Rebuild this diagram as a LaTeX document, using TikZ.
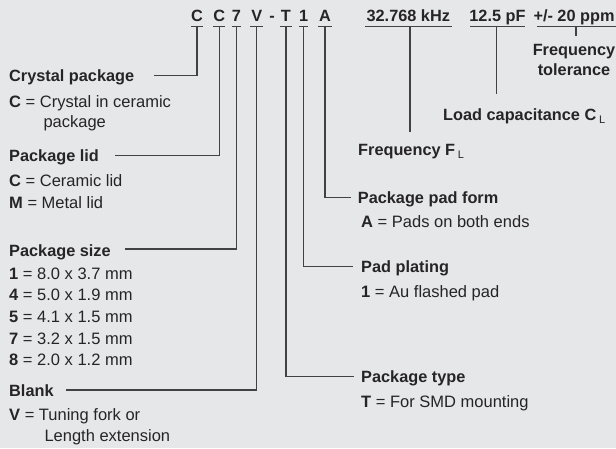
\documentclass[tikz,border=0pt]{standalone}
\usepackage{fontspec}
\setmainfont{Liberation Sans}
\definecolor{bgc}{RGB}{230,231,233}
\definecolor{txtc}{RGB}{38,36,37}
\definecolor{linec}{RGB}{66,66,68}
\newcommand\mysubL{\,{\mdseries\fontsize{11}{11}\selectfont\raisebox{-2.5pt}{L}}}
\begin{document}
\begin{tikzpicture}[x=1pt,y=-1pt,
  txt/.style={inner sep=0pt, anchor=base west, text=txtc, font=\fontsize{16.5}{19}\selectfont},
  bld/.style={txt, font=\fontsize{16.3}{19}\selectfont\bfseries},
  code/.style={inner sep=0pt, anchor=base, text=txtc, font=\fontsize{16.3}{19}\selectfont\bfseries},
  conn/.style={draw=linec, line width=1.3pt}]
\fill[bgc] (0,0) rectangle (616,448);
\useasboundingbox (0,0) rectangle (616,448);

% code letters
\node[code] (kC1) at (196.9,21.7) {C};
\node[code] (kC2) at (219.2,21.7) {C};
\node[code] (k7)  at (236.4,21.7) {7};
\node[code] (kV)  at (256.7,21.7) {V};
\node[code] (kD)  at (272.0,21.7) {-};
\node[code] (kT)  at (285.9,21.7) {T};
\node[code] (k1)  at (303.7,21.7) {1};
\node[code] (kA)  at (325.0,21.7) {A};
\node[code] (kF)  at (408.3,21.7) {32.768 kHz};
\node[code] (kL)  at (497.5,21.7) {12.5 pF};
\node[code, anchor=base west] (kP) at (533.3,21.7) {+/- 20 ppm};

% stem tops
\coordinate (uC1) at (196.9,26.7);
\coordinate (uC2) at (219.2,26.7);
\coordinate (u7)  at (236.4,26.7);
\coordinate (uV)  at (256.7,26.7);
\coordinate (uT)  at (285.9,26.7);
\coordinate (u1)  at (303.7,26.7);
\coordinate (uA)  at (325.0,26.7);
\coordinate (uF)  at (410.0,26.7);
\coordinate (uL)  at (496.7,26.7);
\coordinate (uP)  at (576.0,26.7);

% underlines
\draw[conn] ([xshift=-5.9pt]uC1) -- ([xshift=5.9pt]uC1);
\draw[conn] ([xshift=-5.9pt]uC2) -- ([xshift=5.9pt]uC2);
\draw[conn] ([xshift=-4.7pt]u7) -- ([xshift=4.7pt]u7);
\draw[conn] ([xshift=-6.7pt]uV) -- ([xshift=6.7pt]uV);
\draw[conn] ([xshift=-5.9pt]uT) -- ([xshift=5.9pt]uT);
\draw[conn] ([xshift=-4.7pt]u1) -- ([xshift=4.7pt]u1);
\draw[conn] ([xshift=-6.7pt]uA) -- ([xshift=6.7pt]uA);
\draw[conn] (365,26.7) -- (451.7,26.7);
\draw[conn] (470,26.7) -- (525,26.7);
\draw[conn] (537,26.7) -- (616,26.7);

% left labels
\node[bld] (lCrys) at (9,81.5) {Crystal package};
\node[txt] (dCrys1) at (9,107) {\textbf{C} = Crystal in ceramic};
\node[txt] (dCrys2) at (43.3,127) {package};
\node[bld] (lLid) at (9,161) {Package lid};
\node[txt] (dLid1) at (9,186) {\textbf{C} = Ceramic lid};
\node[txt] (dLid2) at (9,208) {\textbf{M} = Metal lid};
\node[bld] (lSize) at (9,256) {Package size};
\node[txt] (dS1) at (9,279) {\textbf{1} = 8.0 x 3.7 mm};
\node[txt] (dS4) at (9,300.5) {\textbf{4} = 5.0 x 1.9 mm};
\node[txt] (dS5) at (9,322) {\textbf{5} = 4.1 x 1.5 mm};
\node[txt] (dS7) at (9,344) {\textbf{7} = 3.2 x 1.5 mm};
\node[txt] (dS8) at (9,365) {\textbf{8} = 2.0 x 1.2 mm};
\node[bld] (lBlank) at (9,396) {Blank};
\node[txt] (dB1) at (9,420.5) {\textbf{V} = Tuning fork or};
\node[txt] (dB2) at (44.3,441) {Length extension};

% right labels
\node[bld] (lPad) at (357.7,203.3) {Package pad form};
\node[txt] (dPad) at (361,227.3) {\textbf{A} = Pads on both ends};
\node[bld] (lPlat) at (361,272.7) {Pad plating};
\node[txt] (dPlat) at (361,297.3) {\textbf{1} = Au flashed pad};
\node[bld] (lType) at (361,382.3) {Package type};
\node[txt] (dType) at (361,407.3) {\textbf{T} = For SMD mounting};
\node[bld] (lFreq) at (358,155.5) {Frequency F\mysubL};
\node[bld] (lLoad) at (443,120.5) {Load capacitance C\mysubL};
\node[bld, anchor=base] (lTol1) at (574,55) {Frequency};
\node[bld, anchor=base] (lTol2) at (574,75) {tolerance};

% connector ends
\coordinate (eCrys) at (154,75.7);
\coordinate (eLid) at (115,155.7);
\coordinate (eSize) at (125,249);
\coordinate (eBlank) at (66,390);
\coordinate (ePad) at (351,197.7);
\coordinate (ePlat) at (353.3,266.7);
\coordinate (eType) at (354.3,376.7);
\coordinate (eF) at (410,131.7);
\coordinate (eL) at (496.7,94.3);
\coordinate (eP) at (576,36);

% connectors
\draw[conn] (uC1) |- (eCrys);
\draw[conn] (uC2) |- (eLid);
\draw[conn] (u7) |- (eSize);
\draw[conn] (uV) |- (eBlank);
\draw[conn] (uA) |- (ePad);
\draw[conn] (u1) |- (ePlat);
\draw[conn] (uT) |- (eType);
\draw[conn] (uF) -- (eF);
\draw[conn] (uL) -- (eL);
\draw[conn] (uP) -- (eP);
\end{tikzpicture}
\end{document}
